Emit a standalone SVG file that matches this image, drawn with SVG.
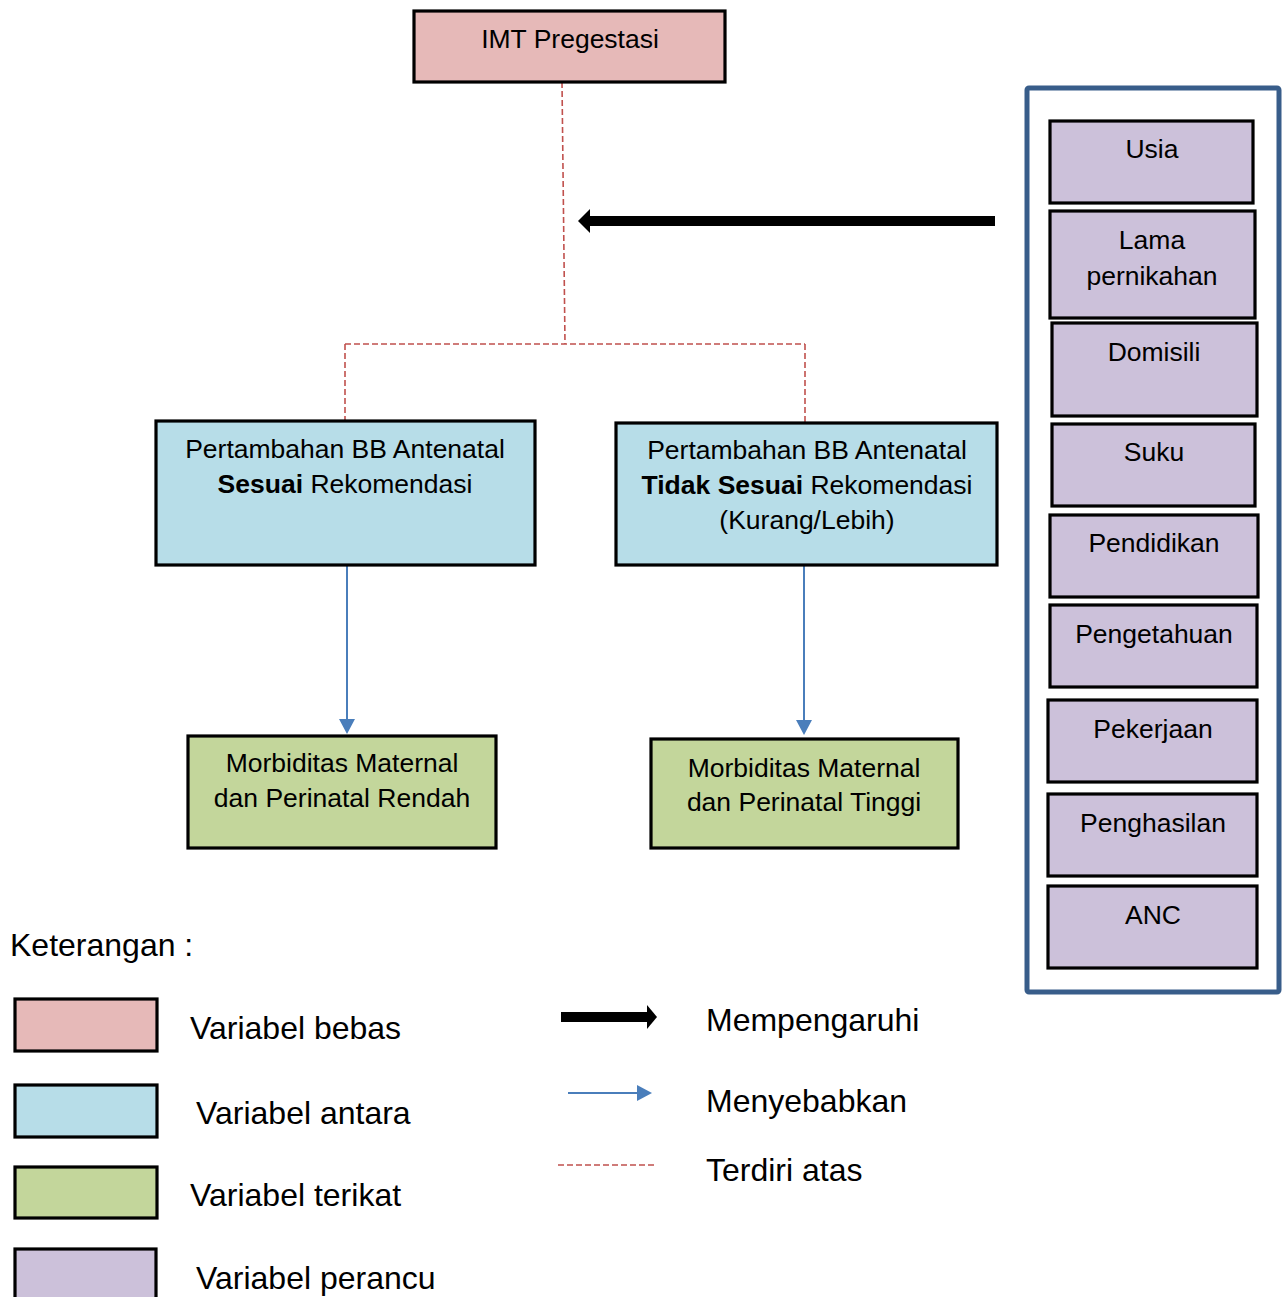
<svg xmlns="http://www.w3.org/2000/svg" width="1288" height="1297" viewBox="0 0 1288 1297">
<defs>
<style>
text{font-family:"Liberation Sans",Arial,sans-serif;fill:#000}
.t{font-size:26.5px;text-anchor:middle}
.l{font-size:32px}
.box{stroke:#000;stroke-width:3.2}
.pink{fill:#e6b9b8}
.blue{fill:#b7dde8}
.green{fill:#c3d69b}
.purple{fill:#ccc1da}
.dash{fill:none;stroke:#c0504d;stroke-width:1.6;stroke-dasharray:6,3}
.cause{stroke:#4a7ebb;stroke-width:2;fill:none}
.infl{stroke:#000;stroke-width:10;fill:none}
</style>
</defs>

<g id="connectors">
<path class="dash" d="M562,82 L565,344"/>
<path class="dash" d="M345,344 L805,344"/>
<path class="dash" d="M345,344 L345,430"/>
<path class="dash" d="M805,344 L805,425"/>
<line class="infl" x1="995" y1="221" x2="590" y2="221"/>
<polygon points="578,221 590,209 590,233" fill="#000"/>
<line class="cause" x1="347" y1="566" x2="347" y2="720"/>
<polygon points="339,719 355,719 347,734" fill="#4a7ebb"/>
<line class="cause" x1="804" y1="566" x2="804" y2="721"/>
<polygon points="796,720 812,720 804,735" fill="#4a7ebb"/>
</g>

<g id="imt">
<rect class="box pink" x="414" y="11" width="311" height="71"/>
<text class="t" x="570" y="48">IMT Pregestasi</text>
</g>

<g id="bb-sesuai">
<rect class="box blue" x="156" y="421" width="379" height="144"/>
<text class="t" x="345" y="458">Pertambahan BB Antenatal</text>
<text class="t" x="345" y="493"><tspan font-weight="bold">Sesuai</tspan> Rekomendasi</text>
</g>

<g id="bb-tidak">
<rect class="box blue" x="616" y="423" width="381" height="142"/>
<text class="t" x="807" y="459">Pertambahan BB Antenatal</text>
<text class="t" x="807" y="494"><tspan font-weight="bold">Tidak Sesuai</tspan> Rekomendasi</text>
<text class="t" x="807" y="529">(Kurang/Lebih)</text>
</g>

<g id="morb-rendah">
<rect class="box green" x="188" y="736" width="308" height="112"/>
<text class="t" x="342" y="772">Morbiditas Maternal</text>
<text class="t" x="342" y="807">dan Perinatal Rendah</text>
</g>

<g id="morb-tinggi">
<rect class="box green" x="651" y="739" width="307" height="109"/>
<text class="t" x="804" y="777">Morbiditas Maternal</text>
<text class="t" x="804" y="811">dan Perinatal Tinggi</text>
</g>

<g id="perancu-frame">
<rect x="1027" y="88" width="252" height="904" rx="2" fill="none" stroke="#385d8a" stroke-width="5"/>
</g>

<g id="usia">
<rect class="box purple" x="1050" y="121" width="203" height="82"/>
<text class="t" x="1152" y="158">Usia</text>
</g>
<g id="lama">
<rect class="box purple" x="1050" y="211" width="205" height="107"/>
<text class="t" x="1152" y="249">Lama</text>
<text class="t" x="1152" y="285">pernikahan</text>
</g>
<g id="domisili">
<rect class="box purple" x="1052" y="323" width="205" height="93"/>
<text class="t" x="1154" y="361">Domisili</text>
</g>
<g id="suku">
<rect class="box purple" x="1052" y="424" width="203" height="82"/>
<text class="t" x="1154" y="461">Suku</text>
</g>
<g id="pendidikan">
<rect class="box purple" x="1050" y="515" width="208" height="82"/>
<text class="t" x="1154" y="552">Pendidikan</text>
</g>
<g id="pengetahuan">
<rect class="box purple" x="1050" y="605" width="207" height="82"/>
<text class="t" x="1154" y="643">Pengetahuan</text>
</g>
<g id="pekerjaan">
<rect class="box purple" x="1048" y="700" width="209" height="82"/>
<text class="t" x="1153" y="738">Pekerjaan</text>
</g>
<g id="penghasilan">
<rect class="box purple" x="1048" y="794" width="209" height="82"/>
<text class="t" x="1153" y="832">Penghasilan</text>
</g>
<g id="anc">
<rect class="box purple" x="1048" y="886" width="209" height="82"/>
<text class="t" x="1153" y="924">ANC</text>
</g>

<g id="legend">
<text class="l" x="10" y="956">Keterangan :</text>
<rect class="box pink" x="15" y="999" width="142" height="52"/>
<text class="l" x="190" y="1039">Variabel bebas</text>
<rect class="box blue" x="15" y="1085" width="142" height="52"/>
<text class="l" x="196" y="1124">Variabel antara</text>
<rect class="box green" x="15" y="1167" width="142" height="51"/>
<text class="l" x="190" y="1206">Variabel terikat</text>
<rect class="box purple" x="15" y="1249" width="141" height="52"/>
<text class="l" x="196" y="1289">Variabel perancu</text>

<line class="infl" x1="561" y1="1017" x2="647" y2="1017"/>
<polygon points="657,1017 647,1005 647,1029" fill="#000"/>
<text class="l" x="706" y="1031">Mempengaruhi</text>
<line class="cause" x1="568" y1="1093" x2="638" y2="1093"/>
<polygon points="637,1085 637,1101 652,1093" fill="#4a7ebb"/>
<text class="l" x="706" y="1112">Menyebabkan</text>
<line class="dash" x1="558" y1="1165" x2="656" y2="1165"/>
<text class="l" x="706" y="1181">Terdiri atas</text>
</g>
</svg>
